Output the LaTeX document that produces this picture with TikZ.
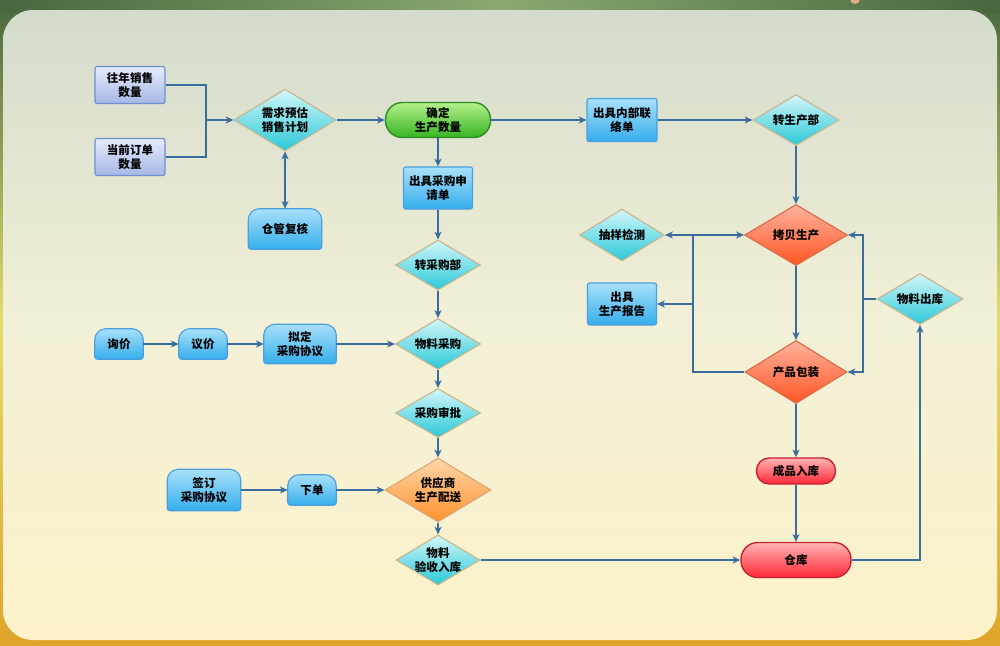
\documentclass[tikz,border=0pt]{standalone}
\usepackage{fontspec}
\newfontfamily\cjk{Noto Sans CJK SC}
\usetikzlibrary{shapes.geometric,arrows.meta,backgrounds}

\definecolor{linkblue}{HTML}{3A6C9E}
\definecolor{cyantop}{HTML}{D2F6F8}
\definecolor{cyanbot}{HTML}{2BC9D8}
\definecolor{cyanline}{HTML}{C8B58E}
\definecolor{bluetop}{HTML}{A8E0FA}
\definecolor{bluebot}{HTML}{35AEEB}
\definecolor{blueline}{HTML}{4C9EE0}
\definecolor{lavtop}{HTML}{E4EBFC}
\definecolor{lavbot}{HTML}{A6B7E4}
\definecolor{lavline}{HTML}{6E8ED0}
\definecolor{greentop}{HTML}{B4F08A}
\definecolor{greenbot}{HTML}{36B424}
\definecolor{greenline}{HTML}{2C8C22}
\definecolor{redtop}{HTML}{FFB2A0}
\definecolor{redbot}{HTML}{FF5622}
\definecolor{redline}{HTML}{D86A44}
\definecolor{orgtop}{HTML}{FFD6A8}
\definecolor{orgbot}{HTML}{FF922E}
\definecolor{orgline}{HTML}{D9A676}
\definecolor{pinktop}{HTML}{FFB4B4}
\definecolor{pinkbot}{HTML}{FF2838}
\definecolor{pinkline}{HTML}{C42030}
\definecolor{frametop}{HTML}{47683F}
\definecolor{framemid}{HTML}{E4DC6C}
\definecolor{framebot}{HTML}{DFA42A}
\definecolor{framelight}{HTML}{8BA870}
\definecolor{paneltop}{HTML}{D3DBCC}
\definecolor{panelmid}{HTML}{F2F0D6}
\definecolor{panelbot}{HTML}{FDF2CA}
\definecolor{peach}{HTML}{E8A888}

\begin{document}
\begin{tikzpicture}[x=0.025cm, y=-0.025cm,
    every node/.style={font=\cjk\bfseries\fontsize{8.2}{10}\selectfont, align=center, inner sep=0pt},
    wh/.style 2 args={minimum width=#1*0.025cm, minimum height=#2*0.025cm},
    conn/.style={draw=linkblue, line width=0.8pt},
    arr/.style={conn, -{Stealth[length=5.5pt,width=5pt,inset=1.5pt]}},
    twoarr/.style={conn, {Stealth[length=5.5pt,width=5pt,inset=1.5pt]}-{Stealth[length=5.5pt,width=5pt,inset=1.5pt]}},
    box/.style={rectangle, rounded corners=1.5pt, draw=blueline, line width=0.8pt, top color=bluetop, bottom color=bluebot},
    datbox/.style={box, draw=lavline, top color=lavtop, bottom color=lavbot},
    dia/.style={diamond, aspect=2.2, draw=cyanline, line width=0.8pt, top color=cyantop, bottom color=cyanbot},
    hotdia/.style={dia, draw=redline, top color=redtop, bottom color=redbot},
    supdia/.style={dia, draw=orgline, top color=orgtop, bottom color=orgbot},
    pill/.style={rectangle, rounded corners=12pt, draw=greenline, line width=1pt, top color=greentop, bottom color=greenbot},
    redpill/.style={pill, draw=pinkline, top color=pinktop, bottom color=pinkbot},
    tab/.style={rectangle},
    tabshape/.style={draw=blueline, line width=0.8pt, top color=bluetop, bottom color=bluebot}]
  \useasboundingbox (0,0) rectangle (1000,645);
  % Frame and panel
  \begin{scope}[on background layer]
    \shade[top color=frametop, bottom color=framebot, middle color=framemid] (0,0) rectangle (1000,645);
    \shade[left color=frametop, right color=frametop, middle color=framelight] (0,0) rectangle (1000,12);
    \fill[peach] (855,-1) circle (5);
    \shade[top color=paneltop, bottom color=panelbot, middle color=panelmid, rounded corners=0.75cm] (3,10) rectangle (997,640);
  \end{scope}
  % Sales side
  \node[datbox, wh={70}{37}] (pastsales) at (130,85) {往年销售\\数量};
  \node[datbox, wh={70}{37}] (curorder) at (130,157) {当前订单\\数量};
  \node[dia, wh={102}{62}] (forecast) at (285,120) {需求预估\\销售计划};
  \node[tab, wh={73}{40}] (whcheck) at (285,229) {仓管复核};
  \node[pill, wh={105}{35}] (confirm) at (438,120) {确定\\生产数量};
  % Purchase column
  \node[box, wh={69}{42}] (purreq) at (438,188) {出具采购申\\请单};
  \node[dia, wh={85}{50}] (topur) at (438,265) {转采购部};
  \node[dia, wh={85}{51}] (matbuy) at (438,344) {物料采购};
  \node[dia, wh={85}{49}] (approve) at (438,413) {采购审批};
  \node[supdia, wh={106}{64}] (supply) at (438,490) {供应商\\生产配送};
  \node[dia, aspect=1.7, inner sep=-3pt, wh={84}{50}] (accept) at (438,560) {物料\\验收入库};
  \node[tab, wh={48}{30}] (inquiry) at (119,344) {询价};
  \node[tab, wh={48}{30}] (bargain) at (203,344) {议价};
  \node[tab, wh={72}{39}] (draft) at (300,344) {拟定\\采购协议};
  \node[tab, wh={73}{41}] (sign) at (204,490) {签订\\采购协议};
  \node[tab, wh={48}{30}] (order) at (312,490) {下单};
  % Production side
  \node[box, wh={70}{43}] (memo) at (622,120) {出具内部联\\络单};
  \node[dia, wh={86}{51}] (toprod) at (796,120) {转生产部};
  \node[hotdia, wh={103}{61}] (copyprod) at (796,235) {拷贝生产};
  \node[dia, wh={85}{52}] (sample) at (622,235) {抽样检测};
  \node[box, wh={69}{42}] (report) at (622,304) {出具\\生产报告};
  \node[dia, wh={86}{51}] (matout) at (920,299) {物料出库};
  \node[hotdia, wh={102}{63}] (pack) at (796,372) {产品包装};
  \node[redpill, wh={79}{26}, rounded corners=9pt] (finished) at (796,471) {成品入库};
  \node[redpill, wh={110}{35}] (store) at (796,560) {仓库};
  % Tab shaped boxes
  \begin{scope}[on background layer]
    \foreach \n in {whcheck,inquiry,bargain,draft,sign,order}
      \path[tabshape] (\n.south) [rounded corners=2pt] -- (\n.south east) [rounded corners=8pt] -- (\n.north east) -- (\n.north west) [rounded corners=2pt] -- (\n.south west) -- cycle;
  \end{scope}
  % Connectors
  \coordinate (inj) at (206,120);
  \draw[conn] (pastsales.east) -| (inj);
  \draw[conn] (curorder.east) -| (inj);
  \draw[arr] (inj) -- (forecast.west);
  \draw[arr] (forecast.east) -- (confirm.west);
  \draw[twoarr] (forecast.south) -- (whcheck.north);
  \draw[arr] (confirm.east) -- (memo.west);
  \draw[arr] (memo.east) -- (toprod.west);
  \draw[arr] (confirm.south) -- (purreq.north);
  \draw[arr] (purreq.south) -- (topur.north);
  \draw[arr] (topur.south) -- (matbuy.north);
  \draw[arr] (matbuy.south) -- (approve.north);
  \draw[arr] (approve.south) -- (supply.north);
  \draw[arr] (supply.south) -- (accept.north);
  \draw[arr] (inquiry.east) -- (bargain.west);
  \draw[arr] (bargain.east) -- (draft.west);
  \draw[arr] (draft.east) -- (matbuy.west);
  \draw[arr] (sign.east) -- (order.west);
  \draw[arr] (order.east) -- (supply.west);
  \draw[arr] (accept.east) -- (store.west);
  \draw[arr] (toprod.south) -- (copyprod.north);
  \draw[arr] (copyprod.south) -- (pack.north);
  \draw[arr] (pack.south) -- (finished.north);
  \draw[arr] (finished.south) -- (store.north);
  \draw[arr] (store.east) -| (matout.south);
  % Right loop
  \coordinate (rj) at (863,299);
  \draw[conn] (matout.west) -- (rj);
  \draw[arr] (rj) |- (copyprod.east);
  \draw[arr] (rj) |- (pack.east);
  % Left loop
  \coordinate (lj) at (693,235);
  \coordinate (lr) at (693,304);
  \draw[conn] (pack.west) -| (lj);
  \draw[arr] (lj) -- (sample.east);
  \draw[arr] (lj) -- (copyprod.west);
  \draw[arr] (lr) -- (report.east);
\end{tikzpicture}
\end{document}
